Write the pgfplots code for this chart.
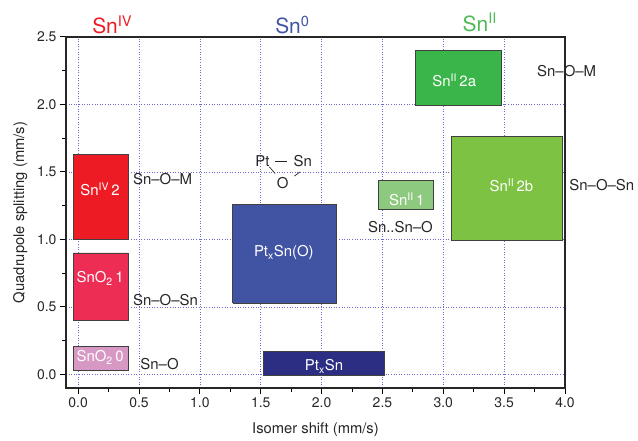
\documentclass[border=0pt]{standalone}
\usepackage{fontspec}
\setmainfont{TeX Gyre Heros}
\usepackage{pgfplots}
\pgfplotsset{compat=1.18}
\definecolor{cRed}{HTML}{ED1C24}
\definecolor{cPinkRed}{HTML}{EE2D55}
\definecolor{cPink}{HTML}{D898C4}
\definecolor{cBlue}{HTML}{4153A3}
\definecolor{cNavy}{HTML}{2B2E83}
\definecolor{cLGreen}{HTML}{8DC97F}
\definecolor{cGreen}{HTML}{3AB54A}
\definecolor{cYGreen}{HTML}{7DC242}
\definecolor{cTopGreen}{HTML}{4DBA55}
\definecolor{cGrid}{HTML}{6A6ACF}
\tikzset{
  blab/.style={text=white, font=\fontsize{15}{17}\selectfont, inner sep=0pt},
  ann/.style={text=black!85, font=\fontsize{15}{17}\selectfont, inner sep=0pt},
  box/.style={draw=black!75, line width=0.8bp},
}
\begin{document}
\begin{tikzpicture}
\useasboundingbox (-66bp,-53bp) rectangle (572bp,388bp);
\begin{axis}[
  at={(0,0)}, anchor=south west,
  scale only axis, width=499bp, height=351bp,
  xmin=-0.1, xmax=4.0, ymin=-0.1, ymax=2.5,
  xtick={0,0.5,...,4.0}, ytick={0,0.5,...,2.5},
  minor x tick num=1, minor y tick num=1,
  tick pos=left, tick align=outside,
  major tick length=6bp, minor tick length=3.5bp,
  every tick/.style={black, line width=1bp},
  axis line style={line width=1.4bp, black!85},
  grid=major,
  major grid style={color=cGrid, line width=0.7bp, dash pattern=on 1bp off 1.6bp},
  /pgf/number format/assume math mode=true,
  xticklabel style={/pgf/number format/.cd, fixed, fixed zerofill, precision=1},
  yticklabel style={/pgf/number format/.cd, fixed, fixed zerofill, precision=1},
  ticklabel style={font=\fontsize{14}{16}\selectfont, text=black!85},
  xlabel={Isomer shift (mm/s)}, ylabel={Quadrupole splitting (mm/s)},
  label style={font=\fontsize{14.8}{17}\selectfont, text=black!85},
  xlabel style={yshift=-8bp},
  ylabel style={yshift=3bp},
  clip=false,
]
% boxes
\addplot[box, fill=cRed] coordinates {(-0.04,1.0) (0.41,1.0) (0.41,1.63) (-0.04,1.63) (-0.04,1.0)};
\addplot[box, fill=cPinkRed] coordinates {(-0.04,0.40) (0.41,0.40) (0.41,0.90) (-0.04,0.90) (-0.04,0.40)};
\addplot[box, fill=cPink] coordinates {(-0.04,0.03) (0.41,0.03) (0.41,0.21) (-0.04,0.21) (-0.04,0.03)};
\addplot[box, fill=cBlue] coordinates {(1.27,0.53) (2.12,0.53) (2.12,1.26) (1.27,1.26) (1.27,0.53)};
\addplot[box, fill=cNavy] coordinates {(1.52,-0.01) (2.52,-0.01) (2.52,0.17) (1.52,0.17) (1.52,-0.01)};
\addplot[box, fill=cLGreen] coordinates {(2.47,1.22) (2.92,1.22) (2.92,1.44) (2.47,1.44) (2.47,1.22)};
\addplot[box, fill=cGreen] coordinates {(2.77,1.99) (3.48,1.99) (3.48,2.40) (2.77,2.40) (2.77,1.99)};
\addplot[box, fill=cYGreen] coordinates {(3.07,0.99) (3.98,0.99) (3.98,1.76) (3.07,1.76) (3.07,0.99)};
% box labels
\node[blab] at (axis cs:0.18,1.37) {Sn\textsuperscript{IV}\,2};
\node[blab] at (axis cs:0.18,0.71) {SnO\textsubscript{2}\,1};
\node[blab] at (axis cs:0.18,0.126) {SnO\textsubscript{2}\,0};
\node[blab] at (axis cs:1.69,0.90) {Pt\textsubscript{x}Sn(O)};
\node[blab] at (axis cs:2.02,0.06) {Pt\textsubscript{x}Sn};
\node[blab] at (axis cs:2.70,1.30) {Sn\textsuperscript{II}\,1};
\node[blab] at (axis cs:3.09,2.18) {Sn\textsuperscript{II}\,2a};
\node[blab] at (axis cs:3.56,1.40) {Sn\textsuperscript{II}\,2b};
% annotations
\node[ann, anchor=west] at (axis cs:0.45,1.45) {Sn--O--M};
\node[ann, anchor=west] at (axis cs:0.45,0.55) {Sn--O--Sn};
\node[ann, anchor=west] at (axis cs:0.51,0.08) {Sn--O};
\node[ann, anchor=west] at (axis cs:2.38,1.09) {Sn..Sn--O};
\node[ann, anchor=west] at (axis cs:3.77,2.25) {Sn--O--M};
\node[ann, anchor=west] at (axis cs:4.035,1.40) {Sn--O--Sn};
\node[ann] at (axis cs:1.514,1.58) {Pt};
\node[ann] at (axis cs:1.846,1.58) {Sn};
\node[ann] at (axis cs:1.68,1.418) {O};
\draw[black!85, line width=1.1bp] (axis cs:1.618,1.576) -- (axis cs:1.714,1.576);
\draw[black!85, line width=0.7bp] (axis cs:1.571,1.538) -- (axis cs:1.618,1.489);
\draw[black!85, line width=0.7bp] (axis cs:1.777,1.470) -- (axis cs:1.823,1.501);
% top labels
\node[text=cRed, font=\fontsize{21}{24}\selectfont] at (axis cs:0.28,2.59) {Sn\textsuperscript{IV}};
\node[text=cBlue, font=\fontsize{21}{24}\selectfont] at (axis cs:1.76,2.59) {Sn\textsuperscript{0}};
\node[text=cTopGreen, font=\fontsize{21}{24}\selectfont] at (axis cs:3.30,2.61) {Sn\textsuperscript{II}};
\end{axis}
\end{tikzpicture}
\end{document}
